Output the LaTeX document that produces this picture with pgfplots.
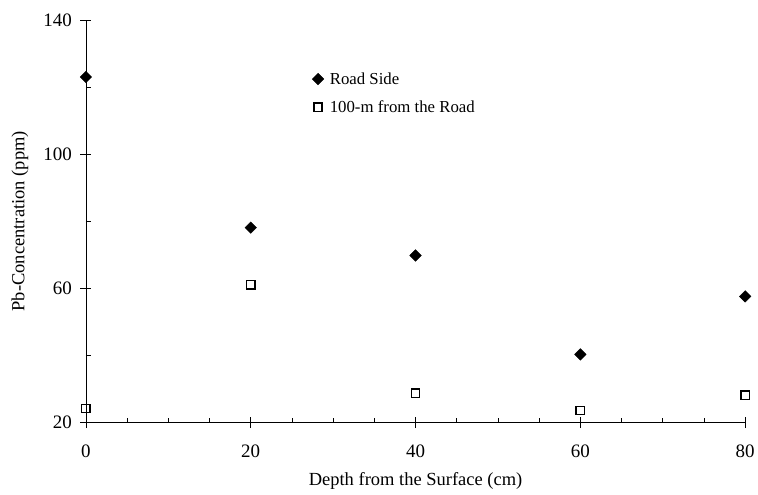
\documentclass[border=0pt]{standalone}
\usepackage{fontspec}
\setmainfont{Liberation Serif}
\usepackage{pgfplots}
\pgfplotsset{compat=1.18}
\begin{document}
\begin{tikzpicture}[font=\fontsize{18.5}{22}\selectfont]
\begin{axis}[
  name=ax,
  scale only axis,
  width=660pt, height=403pt,
  xmin=0, xmax=80, ymin=20, ymax=140,
  axis lines=left,
  axis line style={-, line width=0.8pt, black},
  xtick={0,20,40,60,80},
  ytick={20,60,100,140},
  minor tick num=0,
  tick align=center,
  major tick length=11pt,
  tick style={line width=0.8pt, black},
  /pgf/number format/assume math mode=true,
  xticklabel style={font=\fontsize{19}{22}\selectfont, yshift=-13pt},
  yticklabel style={font=\fontsize{19}{22}\selectfont, xshift=-5pt},
  xlabel={Depth from the Surface (cm)},
  ylabel={Pb-Concentration (ppm)},
  xlabel style={at={(axis description cs:0.5,-0.144)}, anchor=center},
  ylabel style={at={(axis description cs:-0.1,0.5)}, anchor=center},
  legend style={draw=none, fill=none, at={(axis description cs:0.343,0.875)}, anchor=north west,
    font=\fontsize{16.8}{20}\selectfont, row sep=11pt, column sep=4pt, inner sep=0pt},
  legend cell align=left,
  legend image code/.code={\draw[#1] plot coordinates {(0pt,0pt)};},
  clip=false,
]
\addplot[only marks, mark=square*, mark size=4.1pt, mark options={rotate=45, fill=black, draw=black}]
  coordinates {(0,123.0) (20,78.1) (40,69.8) (60,40.3) (80,57.6)};
\addlegendentry{Road Side}
\addplot[only marks, mark=square, mark size=4.2pt, mark options={line width=1.5pt, draw=black, fill=white}]
  coordinates {(0,24.2) (20,61.1) (40,28.7) (60,23.6) (80,28.1)};
\addlegendentry{100-m from the Road}
\end{axis}
\begin{axis}[
  scale only axis,
  width=660pt, height=403pt,
  xmin=0, xmax=80, ymin=20, ymax=140,
  axis lines=left,
  axis line style={-, line width=0.8pt, black},
  xtick={0,20,40,60,80}, ytick={20,60,100,140},
  xticklabels={}, yticklabels={},
  minor x tick num=3, minor y tick num=1,
  tick align=inside,
  major tick length=0pt,
  minor tick length=5pt,
  tick style={line width=0.8pt, black},
]
\end{axis}
\path ([shift={(-86pt,-72pt)}]ax.south west) rectangle ([shift={(12pt,20pt)}]ax.north east);
\end{tikzpicture}
\end{document}
